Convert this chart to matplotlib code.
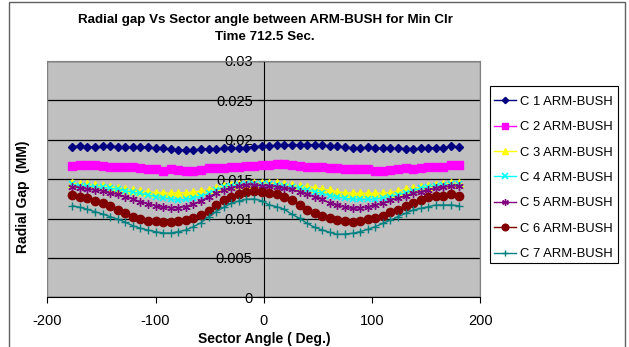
import matplotlib
matplotlib.use("Agg")
import matplotlib.pyplot as plt
from matplotlib.patches import Rectangle

plt.rcParams['font.family'] = ['Liberation Sans', 'DejaVu Sans']

angles = [-177, -170, -163, -156, -149, -142, -135, -128, -121, -114, -107, -100, -93,
          -86, -79, -72, -65, -58, -51, -44, -37, -30, -23, -16, -9, -2,
          5, 12, 19, 26, 33, 40, 47, 54, 61, 68, 75, 82, 89, 96,
          103, 110, 117, 124, 131, 138, 145, 152, 159, 166, 173, 180]

c1 = [0.01913, 0.01921, 0.01913, 0.01904, 0.01917, 0.01921, 0.01913, 0.01904, 0.01904, 0.01913,
      0.01904, 0.01896, 0.01891, 0.01883, 0.01870, 0.01870, 0.01870, 0.01879, 0.01883, 0.01883,
      0.01891, 0.01891, 0.01891, 0.01900, 0.01913, 0.01921, 0.01921, 0.01929, 0.01929, 0.01938,
      0.01934, 0.01934, 0.01938, 0.01929, 0.01925, 0.01921, 0.01908, 0.01896, 0.01891, 0.01904,
      0.01900, 0.01891, 0.01891, 0.01891, 0.01887, 0.01879, 0.01896, 0.01900, 0.01900, 0.01900,
      0.01917, 0.01908]
c2 = [0.01671, 0.01680, 0.01680, 0.01680, 0.01667, 0.01658, 0.01658, 0.01650, 0.01650, 0.01637,
      0.01633, 0.01624, 0.01607, 0.01624, 0.01616, 0.01607, 0.01607, 0.01616, 0.01637, 0.01646,
      0.01646, 0.01650, 0.01658, 0.01667, 0.01667, 0.01680, 0.01680, 0.01688, 0.01692, 0.01684,
      0.01671, 0.01658, 0.01650, 0.01654, 0.01637, 0.01646, 0.01633, 0.01629, 0.01624, 0.01624,
      0.01607, 0.01607, 0.01616, 0.01624, 0.01637, 0.01633, 0.01646, 0.01658, 0.01658, 0.01658,
      0.01680, 0.01680]
c3 = [0.01447, 0.01438, 0.01434, 0.01426, 0.01413, 0.01405, 0.01392, 0.01375, 0.01362, 0.01354,
      0.01341, 0.01328, 0.01328, 0.01320, 0.01328, 0.01328, 0.01333, 0.01350, 0.01362, 0.01392,
      0.01413, 0.01426, 0.01434, 0.01438, 0.01447, 0.01447, 0.01447, 0.01447, 0.01434, 0.01426,
      0.01413, 0.01405, 0.01392, 0.01371, 0.01362, 0.01341, 0.01328, 0.01320, 0.01320, 0.01320,
      0.01320, 0.01320, 0.01328, 0.01350, 0.01371, 0.01384, 0.01396, 0.01413, 0.01426, 0.01434,
      0.01447, 0.01447]
c4 = [0.01434, 0.01417, 0.01413, 0.01405, 0.01396, 0.01384, 0.01371, 0.01354, 0.01333, 0.01320,
      0.01299, 0.01278, 0.01265, 0.01248, 0.01235, 0.01244, 0.01265, 0.01286, 0.01320, 0.01362,
      0.01396, 0.01417, 0.01426, 0.01434, 0.01434, 0.01434, 0.01434, 0.01426, 0.01413, 0.01405,
      0.01384, 0.01362, 0.01341, 0.01320, 0.01290, 0.01278, 0.01256, 0.01248, 0.01244, 0.01244,
      0.01248, 0.01265, 0.01278, 0.01299, 0.01328, 0.01354, 0.01384, 0.01405, 0.01417, 0.01426,
      0.01434, 0.01434]
c5 = [0.01405, 0.01392, 0.01375, 0.01362, 0.01350, 0.01328, 0.01307, 0.01278, 0.01248, 0.01214,
      0.01185, 0.01163, 0.01142, 0.01138, 0.01138, 0.01151, 0.01185, 0.01223, 0.01278, 0.01320,
      0.01362, 0.01392, 0.01413, 0.01426, 0.01426, 0.01413, 0.01413, 0.01405, 0.01384, 0.01371,
      0.01341, 0.01311, 0.01278, 0.01248, 0.01193, 0.01172, 0.01142, 0.01130, 0.01138, 0.01142,
      0.01172, 0.01193, 0.01235, 0.01256, 0.01290, 0.01320, 0.01341, 0.01362, 0.01384, 0.01396,
      0.01413, 0.01413]
c6 = [0.01299, 0.01278, 0.01256, 0.01227, 0.01193, 0.01163, 0.01108, 0.01066, 0.01024, 0.00994,
      0.00973, 0.00969, 0.00960, 0.00952, 0.00969, 0.00982, 0.01011, 0.01045, 0.01096, 0.01172,
      0.01235, 0.01278, 0.01311, 0.01341, 0.01350, 0.01341, 0.01320, 0.01307, 0.01278, 0.01235,
      0.01172, 0.01108, 0.01066, 0.01036, 0.01003, 0.00982, 0.00969, 0.00960, 0.00973, 0.00990,
      0.01003, 0.01036, 0.01087, 0.01108, 0.01159, 0.01193, 0.01235, 0.01278, 0.01286, 0.01286,
      0.01307, 0.01290]
c7 = [0.01163, 0.01142, 0.01117, 0.01087, 0.01058, 0.01024, 0.00994, 0.00952, 0.00909, 0.00876,
      0.00854, 0.00833, 0.00816, 0.00816, 0.00833, 0.00854, 0.00897, 0.00947, 0.01024, 0.01087,
      0.01142, 0.01193, 0.01223, 0.01244, 0.01248, 0.01227, 0.01172, 0.01151, 0.01117, 0.01053,
      0.01003, 0.00939, 0.00888, 0.00854, 0.00825, 0.00799, 0.00804, 0.00812, 0.00833, 0.00863,
      0.00897, 0.00939, 0.00981, 0.01024, 0.01066, 0.01108, 0.01129, 0.01151, 0.01172, 0.01172,
      0.01172, 0.01163]

series_labels = ['C 1 ARM-BUSH', 'C 2 ARM-BUSH', 'C 3 ARM-BUSH', 'C 4 ARM-BUSH',
                 'C 5 ARM-BUSH', 'C 6 ARM-BUSH', 'C 7 ARM-BUSH']
x_ticks = [-200, -100, 0, 100, 200]
y_ticks = [0, 0.005, 0.01, 0.015, 0.02, 0.025, 0.03]
y_tick_labels = ['0', '0.005', '0.01', '0.015', '0.02', '0.025', '0.03']

styles = [
    dict(color='#000080', marker='D', ms=4.0, mfc='#000080', mec='#000080'),
    dict(color='#FF00FF', marker='s', ms=5.5, mfc='#FF00FF', mec='#FF00FF'),
    dict(color='#FFFF00', marker='^', ms=5.5, mfc='#FFFF00', mec='#FFFF00'),
    dict(color='#00FFFF', marker='x', ms=5.0, mfc='#00FFFF', mec='#00FFFF', mew=1.2),
    dict(color='#800080', marker=(6, 2, 0), ms=6.0, mfc='#800080', mec='#800080', mew=1.0),
    dict(color='#800000', marker='o', ms=6.0, mfc='#800000', mec='#800000'),
    dict(color='#008080', marker='+', ms=6.0, mfc='#008080', mec='#008080', mew=1.0),
]

fig = plt.figure(figsize=(6.29, 3.47), dpi=100)
fig.patch.set_facecolor('white')
fig.add_artist(Rectangle((9 / 629, -0.05), 616 / 629, 1.045, transform=fig.transFigure,
                         fill=False, edgecolor='#606060', linewidth=1.0))

ax = fig.add_axes([47.3 / 629, 1 - 297.3 / 347, 433 / 629, 236.3 / 347])
ax.set_facecolor('#C0C0C0')
ax.set_axisbelow(True)

data = [c1, c2, c3, c4, c5, c6, c7]
for vals, lab, st in zip(data, series_labels, styles):
    ax.plot(angles, vals, label=lab, linewidth=1.0, zorder=3, **st)

ax.set_xlim(-200, 200)
ax.set_ylim(0, 0.03)
ax.set_xticks(x_ticks)
ax.set_xticklabels([str(v) for v in x_ticks])
ax.set_yticks(y_ticks)
ax.set_yticklabels(y_tick_labels)
ax.yaxis.grid(True, color='#000000', linewidth=0.9)
ax.xaxis.grid(False)

ax.spines['left'].set_position(('data', 0))
ax.spines['left'].set_color('black')
ax.spines['bottom'].set_color('black')
ax.spines['top'].set_color('#808080')
ax.spines['right'].set_color('#808080')
ax.add_patch(Rectangle((0, 0), 1, 1, transform=ax.transAxes, fill=False,
                       edgecolor='#808080', linewidth=1.0, zorder=1))

ax.tick_params(axis='y', direction='out', length=4, pad=4, labelsize=10.5, colors='black')
ax.tick_params(axis='x', direction='out', length=4, pad=8, labelsize=10.5, colors='black')

fig.text(265 / 629, 1 - 20 / 347, 'Radial gap Vs Sector angle between ARM-BUSH for Min Clr',
         ha='center', va='center', fontsize=9.6, fontweight='bold')
fig.text(265 / 629, 1 - 37 / 347, 'Time 712.5 Sec.', ha='center', va='center',
         fontsize=9.6, fontweight='bold')
fig.text(264 / 629, 1 - 339 / 347, 'Sector Angle ( Deg.)', ha='center', va='center',
         fontsize=10, fontweight='bold')
fig.text(23 / 629, 1 - 197 / 347, 'Radial Gap  (MM)', ha='center', va='center',
         rotation=90, fontsize=10, fontweight='bold')

# legend frame drawn separately for exact placement
fig.add_artist(Rectangle((490 / 629, 1 - 263 / 347), 128 / 629, 177 / 347,
                         transform=fig.transFigure, facecolor='white',
                         edgecolor='black', linewidth=0.8, zorder=4))
leg = ax.legend(loc='upper left', bbox_to_anchor=(494 / 629, 1 - 95.5 / 347),
                bbox_transform=fig.transFigure, frameon=False, fontsize=9.4,
                handlelength=1.7, handletextpad=0.3, labelspacing=1.02,
                borderpad=0, borderaxespad=0, markerscale=0.8)
leg.set_zorder(5)
leg.remove()
fig.add_artist(leg)

fig.savefig('out.png', dpi=100, facecolor='white')
